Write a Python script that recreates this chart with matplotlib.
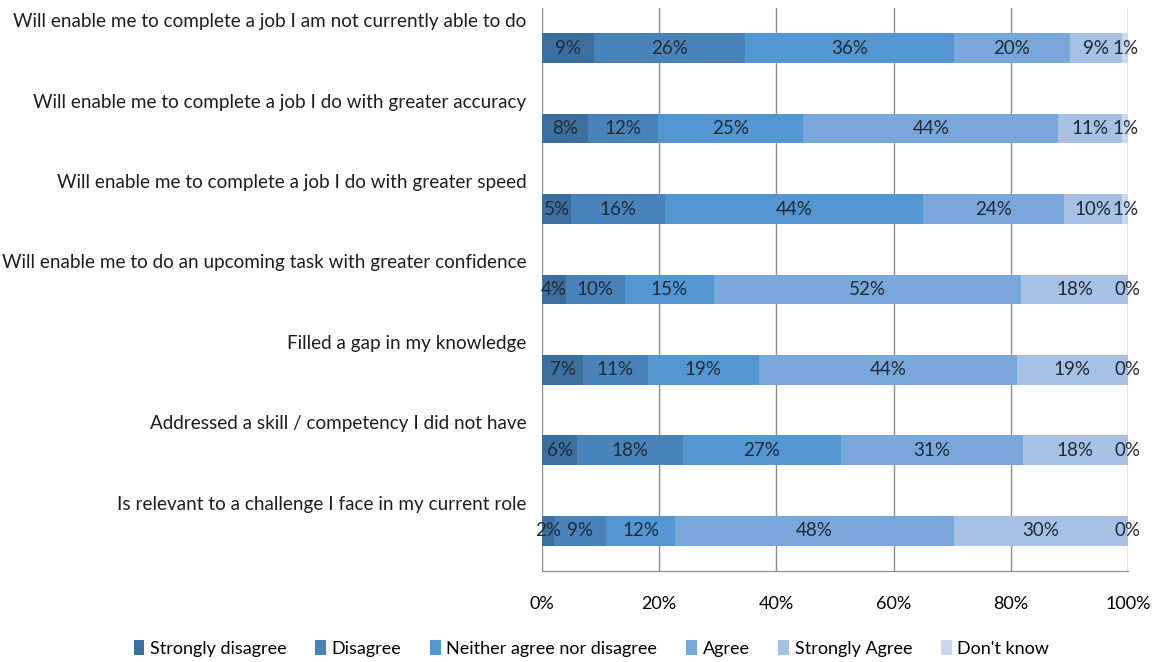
import matplotlib.pyplot as plt
import numpy as np

plt.rcParams['font.family'] = ['Lato', 'DejaVu Sans']

categories = [
    "Will enable me to complete a job I am not currently able to do",
    "Will enable me to complete a job I do with greater accuracy",
    "Will enable me to complete a job I do with greater speed",
    "Will enable me to do an upcoming task with greater confidence",
    "Filled a gap in my knowledge",
    "Addressed a skill / competency I did not have",
    "Is relevant to a challenge I face in my current role",
]
series = ["Strongly disagree", "Disagree", "Neither agree nor disagree",
          "Agree", "Strongly Agree", "Don't know"]
strongly_disagree = [9, 8, 5, 4, 7, 6, 2]
disagree = [26, 12, 16, 10, 11, 18, 9]
neither = [36, 25, 44, 15, 19, 27, 12]
agree = [20, 44, 24, 52, 44, 31, 48]
strongly_agree = [9, 11, 10, 18, 19, 18, 30]
dont_know = [1, 1, 1, 0, 0, 0, 0]
colors = ["#3d6f9e", "#4a83ba", "#5396d1", "#7aa7da", "#a6c1e3", "#c8d8ef"]

values = np.array([strongly_disagree, disagree, neither, agree,
                   strongly_agree, dont_know], dtype=float)
# 100% stacked: normalise each row
widths = values / values.sum(axis=0) * 100

fig = plt.figure(figsize=(11.55, 6.62), dpi=100)
ax = fig.add_axes([0.4693, 0.1375, 0.5073, 0.8505])

y = np.arange(len(categories))
left = np.zeros(len(categories))
for i, name in enumerate(series):
    ax.barh(y, widths[i], left=left, height=0.37, color=colors[i],
            label=name, zorder=3)
    for j in range(len(categories)):
        ax.text(left[j] + widths[i][j] / 2, y[j], "%d%%" % values[i][j],
                ha='center', va='center', fontsize=13.5, color='#1e2a38',
                zorder=4)
    left += widths[i]

for j, cat in enumerate(categories):
    ax.text(-2.7, y[j] - 0.33, cat, ha='right', va='center', fontsize=13.6,
            color='#1e1e1e')

ax.set_xlim(0, 100)
ax.set_ylim(len(categories) - 0.5, -0.5)
ax.set_yticks([])
ax.set_xticks(range(0, 101, 20))
ax.set_xticklabels(["%d%%" % v for v in range(0, 101, 20)], fontsize=13)
ax.tick_params(axis='x', length=0, pad=18)
ax.grid(axis='x', color='#8c8c8c', linewidth=1, zorder=0)
for s in ['top', 'left', 'right']:
    ax.spines[s].set_visible(False)
ax.spines['bottom'].set_color('#8c8c8c')

fig.legend(loc='center', bbox_to_anchor=(0.512, 0.02), ncol=6, frameon=False,
           fontsize=13, handlelength=0.6, handleheight=0.9,
           handletextpad=0.3, columnspacing=1.6)

fig.savefig("out.png", dpi=100)
